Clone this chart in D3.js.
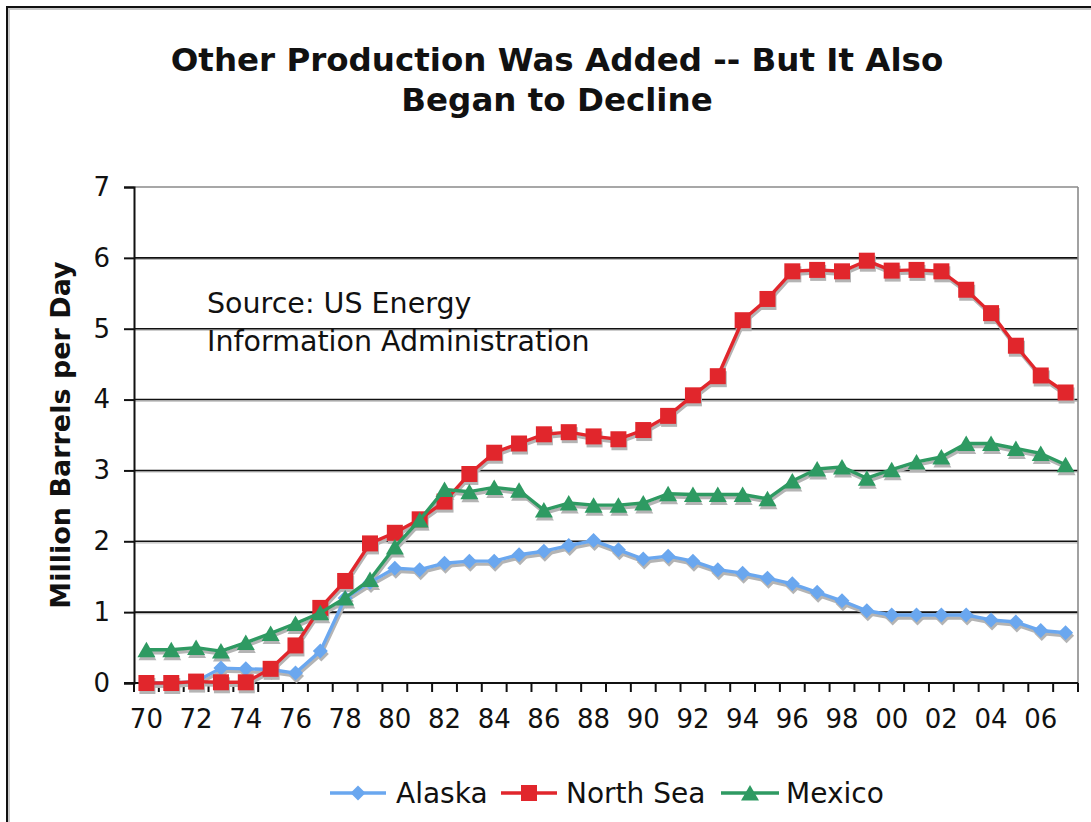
<!DOCTYPE html>
<html>
<head>
<meta charset="utf-8">
<script src="https://cdn.jsdelivr.net/npm/d3@7"></script>
<style>
  html, body { margin: 0; padding: 0; background: #fff; }
  svg { display: block; }
  text { font-family: "DejaVu Sans", Verdana, sans-serif; fill: #111; }
</style>
</head>
<body>
<svg id="chart" width="1091" height="822"></svg>
<script>
// ---- data ----
const years = ["70","71","72","73","74","75","76","77","78","79",
               "80","81","82","83","84","85","86","87","88","89",
               "90","91","92","93","94","95","96","97","98","99",
               "00","01","02","03","04","05","06","07"];
const xTickLabels = ["70","72","74","76","78","80","82","84","86","88",
                     "90","92","94","96","98","00","02","04","06"];
const yTicks = [0,1,2,3,4,5,6,7];
const alaska = [0.00,0.00,0.02,0.21,0.20,0.19,0.14,0.45,1.20,1.42,
                1.62,1.60,1.69,1.72,1.72,1.81,1.86,1.94,2.01,1.88,
                1.75,1.79,1.72,1.60,1.55,1.48,1.40,1.28,1.16,1.02,
                0.96,0.96,0.96,0.96,0.89,0.86,0.74,0.71];
const northSea = [0.00,0.00,0.02,0.01,0.01,0.20,0.53,1.06,1.44,1.97,
                  2.12,2.31,2.56,2.95,3.25,3.38,3.51,3.54,3.48,3.44,
                  3.57,3.77,4.06,4.33,5.12,5.42,5.81,5.83,5.81,5.96,
                  5.82,5.83,5.81,5.55,5.22,4.76,4.34,4.10];
const mexico = [0.47,0.47,0.50,0.45,0.57,0.70,0.84,0.99,1.20,1.46,
                1.92,2.30,2.73,2.70,2.76,2.72,2.44,2.54,2.51,2.51,
                2.54,2.67,2.66,2.66,2.66,2.60,2.85,3.02,3.05,2.89,
                3.01,3.12,3.19,3.38,3.38,3.31,3.24,3.08];
const seriesNames = ["Alaska","North Sea","Mexico"];
const titleLines = ["Other Production Was Added -- But It Also","Began to Decline"];
const sourceLines = ["Source: US Energy","Information Administration"];
const yLabel = "Million Barrels per Day";

// ---- setup ----
const svg = d3.select("#chart");
const colors = {"Alaska":"#6aa7ef","North Sea":"#e1262c","Mexico":"#2e9a62"};
const shapes = {"Alaska":"diamond","North Sea":"square","Mexico":"triangle"};
const seriesData = [
  {name:"Alaska", values: alaska},
  {name:"North Sea", values: northSea},
  {name:"Mexico", values: mexico}
];

const x = d3.scaleBand().domain(years).range([134, 1078]);
const y = d3.scaleLinear().domain([0, 7]).range([683, 187]);
const cx = d => x(d) + x.bandwidth() / 2;

function markerPath(shape) {
  if (shape === "square") return "M-8,-8H8V8H-8Z";
  if (shape === "diamond") return "M0,-7.5L7.5,0L0,7.5L-7.5,0Z";
  return "M0,-8L9,7.5L-9,7.5Z";
}

// outer frame
svg.append("rect").attr("x", 9).attr("y", 9).attr("width", 1100).attr("height", 830)
  .attr("fill", "none").attr("stroke", "#c8c8c8").attr("stroke-width", 2);
svg.append("rect").attr("x", 7).attr("y", 7).attr("width", 1100).attr("height", 830)
  .attr("fill", "none").attr("stroke", "#111").attr("stroke-width", 2);

// title
svg.append("g").selectAll("text").data(titleLines).join("text")
  .attr("x", 557).attr("y", (d, i) => 71 + i * 40)
  .attr("text-anchor", "middle")
  .style("font-weight", "bold").style("font-size", "32.5px")
  .text(d => d);

// gridlines (with soft shadow)
const grid = svg.append("g");
grid.selectAll("line.gs").data(yTicks.filter(t => t > 0 && t < 7)).join("line")
  .attr("class", "gs")
  .attr("x1", 134).attr("x2", 1078)
  .attr("y1", d => y(d) + 1.5).attr("y2", d => y(d) + 1.5)
  .attr("stroke", "#bbb").attr("stroke-width", 1.2);
grid.selectAll("line.g").data(yTicks.filter(t => t > 0 && t < 7)).join("line")
  .attr("class", "g")
  .attr("x1", 134).attr("x2", 1078)
  .attr("y1", d => y(d)).attr("y2", d => y(d))
  .attr("stroke", "#111").attr("stroke-width", 1.6);
// plot border top/right (grey)
grid.append("line").attr("x1", 134).attr("x2", 1078).attr("y1", y(7)).attr("y2", y(7))
  .attr("stroke", "#8a8a8a").attr("stroke-width", 1.6);
grid.append("line").attr("x1", 1078).attr("x2", 1078).attr("y1", y(7)).attr("y2", y(0))
  .attr("stroke", "#8a8a8a").attr("stroke-width", 1.6);

// source annotation
svg.append("g").selectAll("text").data(sourceLines).join("text")
  .attr("x", 207).attr("y", (d, i) => 313 + i * 38)
  .style("font-size", "28.5px")
  .text(d => d);

// y axis
const yAxis = svg.append("g").attr("transform", "translate(134,0)")
  .call(d3.axisLeft(y).tickValues(yTicks).tickSize(10).tickPadding(14).tickFormat(d3.format("d")));
yAxis.select(".domain").attr("stroke", "#111").attr("stroke-width", 2);
yAxis.selectAll(".tick line").attr("stroke", "#111").attr("stroke-width", 2);
yAxis.selectAll(".tick text").style("font-size", "26px")
  .style("font-family", '"DejaVu Sans", Verdana, sans-serif').attr("fill", "#111");

// x axis
const xAxis = svg.append("g").attr("transform", "translate(0,683)")
  .call(d3.axisBottom(x).tickValues(xTickLabels).tickSize(0).tickPadding(27));
xAxis.select(".domain").remove();
xAxis.selectAll(".tick text").style("font-size", "26px")
  .style("font-family", '"DejaVu Sans", Verdana, sans-serif').attr("fill", "#111");
// x axis line and tick marks at band boundaries
svg.append("line").attr("x1", 124).attr("x2", 1078).attr("y1", 683).attr("y2", 683)
  .attr("stroke", "#111").attr("stroke-width", 2);
svg.append("g").selectAll("line").data(years.concat(["end"])).join("line")
  .attr("x1", (d, i) => i < years.length ? x(d) : x.range()[1])
  .attr("x2", (d, i) => i < years.length ? x(d) : x.range()[1])
  .attr("y1", 683).attr("y2", 692)
  .attr("stroke", "#111").attr("stroke-width", 2);

// y label
svg.append("text")
  .attr("transform", "translate(70,435) rotate(-90)")
  .attr("text-anchor", "middle")
  .style("font-weight", "bold").style("font-size", "27px")
  .text(yLabel);

// series
const line = d3.line().x((d, i) => cx(years[i])).y(d => y(d));
const shadow = svg.append("g").attr("transform", "translate(1,3)");
const plot = svg.append("g");
seriesData.forEach(s => {
  shadow.append("path").datum(s.values).attr("d", line)
    .attr("fill", "none").attr("stroke", "#b4b4b4").attr("stroke-width", 3.4);
  shadow.append("g").selectAll("path").data(s.values).join("path")
    .attr("transform", (d, i) => `translate(${cx(years[i])},${y(d)})`)
    .attr("d", markerPath(shapes[s.name])).attr("fill", "#b4b4b4");
});
seriesData.forEach(s => {
  plot.append("path").datum(s.values).attr("d", line)
    .attr("fill", "none").attr("stroke", colors[s.name]).attr("stroke-width", 3.4)
    .attr("stroke-linejoin", "round");
  plot.append("g").selectAll("path").data(s.values).join("path")
    .attr("transform", (d, i) => `translate(${cx(years[i])},${y(d)})`)
    .attr("d", markerPath(shapes[s.name])).attr("fill", colors[s.name]);
});

// legend
const legendItems = [
  {name:"Alaska", x0:330, x1:386, tx:396},
  {name:"North Sea", x0:501, x1:557, tx:566},
  {name:"Mexico", x0:721, x1:779, tx:786}
];
const lg = svg.append("g");
const ly = 793;
legendItems.forEach(it => {
  lg.append("line").attr("x1", it.x0).attr("x2", it.x1).attr("y1", ly).attr("y2", ly)
    .attr("stroke", colors[it.name]).attr("stroke-width", 3.4);
  lg.append("path").attr("transform", `translate(${(it.x0 + it.x1) / 2},${ly})`)
    .attr("d", markerPath(shapes[it.name])).attr("fill", colors[it.name]);
  lg.append("text").attr("x", it.tx).attr("y", ly + 10)
    .style("font-size", "28px").text(it.name);
});
</script>
</body>
</html>
